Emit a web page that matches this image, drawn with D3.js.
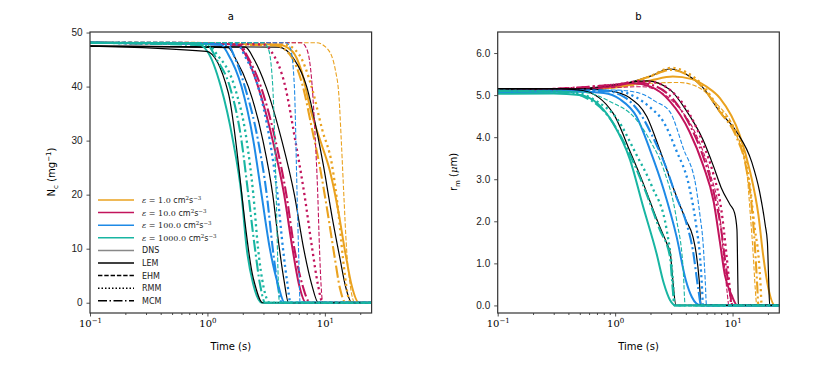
<!DOCTYPE html>
<html>
<head>
<meta charset="utf-8">
<script src="https://cdn.jsdelivr.net/npm/d3@7"></script>
<style>
  body { margin: 0; background: #fff; }
  svg { font-family: "DejaVu Sans", sans-serif; }
</style>
</head>
<body>
<svg id="chart" width="830" height="369"></svg>
<script>
/*
 * Droplet number (a) and mean radius (b) against time for four
 * dissipation rates and five models.
 */

var epsValues = ['1.0', '10.0', '100.0', '1000.0'];
var epsColors = ['#eaa21f', '#c2145c', '#1e8ae6', '#18b5a2'];
var modelNames = ['DNS', 'LEM', 'EHM', 'RMM', 'MCM'];
var xTickValues = [0.1, 1, 10];
var xTickExps = ['\u22121', '0', '1'];
var ncTicks = [0, 10, 20, 30, 40, 50];
var rmTicks = [0, 1, 2, 3, 4, 5, 6];

// panel a: N_c (mg^-1), points are [time (s), value]
var ncDns1 = [[0.1,48.1],[4.0,47.8],[5.3,46.5],[6.3,43],[7.7,35],[9.3,29.5],[11,24.5],[13,17],[15,9],[17,3],[19.5,0],[25,0]];
var ncLem1 = [[0.1,47.5],[4.0,47.3],[5.5,45],[7,40],[8.5,32],[9.7,25.5],[11.5,16],[13.5,8],[15,3],[17,0],[25,0]];
var ncEhm1 = [[0.1,48.2],[8.5,48.1],[10.5,47],[12.3,43],[13.2,38],[13.8,30],[14.5,20],[15.3,10],[16.5,3],[18,0],[25,0]];
var ncRmm1 = [[0.1,48.1],[4.5,47.8],[6,46],[7.7,40],[9.5,32],[11.5,25.5],[13,17],[14.3,8],[15.5,2],[16.5,0],[25,0]];
var ncMcm1 = [[0.1,48.1],[3.8,47.6],[5,46],[6.5,40],[7.8,32],[9,25.5],[10.5,17],[12,9],[13.5,2.5],[15,0],[25,0]];

var ncDns10 = [[0.1,48.1],[1.8,47.8],[2.1,46],[2.7,40],[3.6,30],[4.5,20],[5.3,10],[6,3.5],[6.9,0],[25,0]];
var ncLem10 = [[0.1,47.5],[2.1,47.3],[2.5,45],[3.15,40],[4.3,30],[5.5,20],[6.6,10],[7.7,3.5],[8.8,0],[25,0]];
var ncEhm10 = [[0.1,48.2],[6.3,48.1],[7,47],[7.8,40],[8.3,30],[8.7,20],[9,10],[9.3,3],[9.6,0],[25,0]];
var ncRmm10 = [[0.1,48.1],[3,47.8],[3.5,46.5],[4.6,40],[5.6,30],[6.7,20],[7.8,10],[8.7,3.5],[9.6,0],[25,0]];
var ncMcm10 = [[0.1,48.1],[1.9,47.7],[2.2,45.5],[2.85,40],[3.8,30],[4.7,20],[5.5,10],[6.4,3.5],[7.5,0],[25,0]];

var ncDns100 = [[0.1,48.1],[1.3,47.8],[1.5,46],[1.95,40],[2.46,30],[2.89,20],[3.4,10],[4,3.3],[4.55,0],[25,0]];
var ncLem100 = [[0.1,47.5],[1.5,47.2],[1.75,45],[2.23,40],[2.97,30],[3.6,20],[4.1,10],[4.5,4],[4.9,0],[25,0]];
var ncEhm100 = [[0.1,48.2],[4.7,48.1],[5.1,47],[5.5,40],[5.8,20],[6,8],[6.15,0],[25,0]];
var ncRmm100 = [[0.1,48.1],[1.8,47.8],[2.1,45.5],[2.7,40],[3.4,30],[3.95,20],[4.4,10],[4.8,3.5],[5.1,0],[25,0]];
var ncMcm100 = [[0.1,48.1],[1.5,47.7],[1.7,45.5],[2.08,40],[2.7,30],[3.2,20],[3.6,10],[3.95,3.5],[4.3,0],[25,0]];

var ncDns1000 = [[0.1,48.1],[0.8,48],[1,46.5],[1.3,40],[1.65,30],[1.95,20],[2.16,10],[2.45,3.5],[2.9,0],[25,0]];
var ncLem1000 = [[0.1,47.5],[0.98,46.5],[1.5,39],[2.46,4.5],[2.95,0],[25,0]];
var ncEhm1000 = [[0.1,48.2],[3,48.1],[3.3,47],[3.6,40],[3.85,20],[4,5],[4.1,0],[25,0]];
var ncRmm1000 = [[0.1,48.1],[1,47.8],[1.2,46],[1.7,40],[2.16,30],[2.46,20],[2.7,10],[3,3],[3.4,0],[25,0]];
var ncMcm1000 = [[0.1,48.1],[1,47.6],[1.2,45],[1.55,40],[1.95,30],[2.23,20],[2.54,10],[2.8,3.5],[3.1,0],[25,0]];

// panel b: r_m (um)
var rmDns1 = [[0.1,5.07],[1,5.18],[2,5.35],[3.1,5.44],[4.5,5.38],[6,5.2],[7.8,4.93],[11.5,4.05],[14.1,3.18],[16.6,2.15],[18.2,1.2],[20.2,0.4],[23,0],[25,0]];
var rmLem1 = [[0.1,5.15],[0.5,5.15],[1,5.22],[2,5.45],[2.9,5.62],[4,5.5],[5.5,5.2],[7.8,4.6],[10.8,4.13],[14.6,3.4],[17,2.7],[19,1.9],[19.8,1.5],[20.3,0.6],[20.7,0],[25,0]];
var rmEhm1 = [[0.1,5.1],[1,5.18],[2,5.28],[3.5,5.3],[5,5.2],[7,4.85],[10.8,4.05],[13.2,3.18],[14.1,2.23],[15,1.2],[15.6,0.4],[16.1,0],[25,0]];
var rmRmm1 = [[0.1,5.1],[1,5.2],[2,5.45],[3,5.65],[4,5.55],[5.5,5.25],[7.8,4.65],[10.8,4.1],[12.5,3.6],[14.1,2.8],[15.5,1.8],[16.6,1.2],[17.3,0.5],[17.7,0],[25,0]];
var rmMcm1 = [[0.1,5.1],[1,5.2],[2,5.45],[3,5.6],[4,5.5],[5.5,5.2],[7.8,4.6],[10.8,4],[13,3.3],[14.5,2.4],[15.5,1.4],[16.2,0.5],[16.6,0],[25,0]];

var rmDns10 = [[0.1,5.07],[0.5,5.12],[1,5.22],[1.4,5.28],[2,5.2],[2.93,4.85],[4.3,4.13],[5.6,3.34],[6.9,2.47],[7.8,1.51],[8.6,0.72],[9.8,0.25],[11,0],[25,0]];
var rmLem10 = [[0.1,5.15],[0.5,5.15],[1,5.25],[1.86,5.34],[2.93,5.13],[4,4.65],[5.6,3.94],[6.9,3.3],[8,2.8],[9.5,2.4],[10.4,2.2],[10.9,1.8],[11.1,0.5],[11.2,0],[25,0]];
var rmEhm10 = [[0.1,5.1],[1,5.18],[1.7,5.2],[2.5,5.05],[3.5,4.7],[5,4],[6.5,3.1],[7.8,2.1],[8.5,1],[9,0.3],[9.3,0],[25,0]];
var rmRmm10 = [[0.1,5.1],[1,5.25],[1.6,5.33],[2.2,5.3],[3,5.1],[4.3,4.55],[5.6,3.85],[6.9,3.1],[8,2.3],[8.8,1.3],[9.4,0.5],[9.8,0],[25,0]];
var rmMcm10 = [[0.1,5.1],[1,5.25],[1.5,5.3],[2,5.25],[3,4.95],[4.3,4.3],[5.6,3.55],[6.9,2.7],[8,1.8],[8.8,0.9],[9.5,0.3],[10,0],[25,0]];

var rmDns100 = [[0.1,5.07],[0.5,5.08],[0.8,5.05],[1.1,4.9],[1.52,4.49],[1.98,3.7],[2.6,2.74],[3.34,1.63],[4,0.6],[4.5,0.2],[4.9,0.05],[5.4,0],[25,0]];
var rmLem100 = [[0.1,5.15],[0.5,5.15],[0.9,5.1],[1.34,4.93],[1.86,4.49],[2.4,3.7],[3.1,2.82],[4,2.03],[4.6,1.63],[4.9,1.24],[5.2,0.6],[5.4,0],[25,0]];
var rmEhm100 = [[0.1,5.1],[1,5.12],[1.6,5.05],[2.2,4.85],[2.93,4.6],[3.8,3.74],[4.9,2.79],[5.3,2.1],[5.6,1.51],[5.85,0.6],[6,0],[25,0]];
var rmRmm100 = [[0.1,5.1],[1,5.1],[1.5,4.95],[2,4.7],[2.6,4.35],[3.3,3.7],[4.3,2.79],[4.9,1.9],[5.3,1.1],[5.5,0.4],[5.6,0],[25,0]];
var rmMcm100 = [[0.1,5.1],[0.8,5.1],[1.2,4.95],[1.6,4.6],[2.1,4],[2.7,3.3],[3.3,2.6],[4,2],[4.6,1.3],[5.1,0.4],[5.4,0],[25,0]];

var rmDns1000 = [[0.1,5.03],[0.3,5.04],[0.5,5],[0.7,4.81],[0.96,4.33],[1.34,3.46],[1.73,2.35],[2.25,1.24],[2.6,0.52],[2.93,0.13],[3.3,0],[25,0]];
var rmLem1000 = [[0.1,5.15],[0.35,5.15],[0.53,5.11],[0.96,4.57],[1.34,3.66],[1.67,3.02],[2.4,1.87],[2.75,1.48],[2.95,1.24],[3.08,0.68],[3.3,0],[25,0]];
var rmEhm1000 = [[0.1,5.1],[0.5,5.08],[0.9,4.85],[1.52,4.41],[2,3.9],[2.6,3.22],[3.34,2.03],[3.8,0.84],[3.95,0],[25,0]];
var rmRmm1000 = [[0.1,5.1],[0.4,5.08],[0.7,4.85],[1.03,4.45],[1.52,3.58],[2.05,2.84],[2.75,1.79],[3.1,0.6],[3.2,0],[25,0]];
var rmMcm1000 = [[0.1,5.1],[0.35,5.08],[0.6,4.9],[0.9,4.45],[1.34,3.58],[1.73,2.86],[2.4,1.8],[2.93,1.16],[3.1,0.36],[3.2,0],[25,0]];

var ncSeries = [
  [ncDns1, ncLem1, ncEhm1, ncRmm1, ncMcm1],
  [ncDns10, ncLem10, ncEhm10, ncRmm10, ncMcm10],
  [ncDns100, ncLem100, ncEhm100, ncRmm100, ncMcm100],
  [ncDns1000, ncLem1000, ncEhm1000, ncRmm1000, ncMcm1000]
];
var rmSeries = [
  [rmDns1, rmLem1, rmEhm1, rmRmm1, rmMcm1],
  [rmDns10, rmLem10, rmEhm10, rmRmm10, rmMcm10],
  [rmDns100, rmLem100, rmEhm100, rmRmm100, rmMcm100],
  [rmDns1000, rmLem1000, rmEhm1000, rmRmm1000, rmMcm1000]
];

// line look for each model
var modelStyle = {
  DNS: {width: 2, dash: null},
  LEM: {width: 1.2, dash: null, black: true},
  EHM: {width: 1.1, dash: '4.4,1.9'},
  RMM: {width: 2.3, dash: '2.2,3.4'},
  MCM: {width: 2.1, dash: '12,3,2,3'}
};

var svg = d3.select('#chart');
var minorTicks = [0.2,0.3,0.4,0.5,0.6,0.7,0.8,0.9,2,3,4,5,6,7,8,9,20];

function drawPanel(opts) {
  var x = d3.scaleLog().domain([0.1, 25]).range([opts.left, opts.left + 281.6]);
  var y = d3.scaleLinear().domain(opts.yDomain).range([313, 32]);
  var g = svg.append('g');

  var line = d3.line()
    .x(function(d) { return x(d[0]); })
    .y(function(d) { return y(d[1]); })
    .curve(d3.curveMonotoneX);

  var clipId = 'clip' + opts.name;
  svg.append('clipPath').attr('id', clipId)
    .append('rect')
      .attr('x', opts.left).attr('y', 32)
      .attr('width', 281.6).attr('height', 281);

  var lines = g.append('g').attr('clip-path', 'url(#' + clipId + ')');
  opts.series.forEach(function(group, i) {
    group.forEach(function(data, j) {
      var st = modelStyle[modelNames[j]];
      lines.append('path')
        .datum(data)
        .attr('fill', 'none')
        .attr('stroke', st.black ? '#000' : epsColors[i])
        .attr('stroke-width', st.width)
        .attr('stroke-dasharray', st.dash)
        .attr('d', line);
    });
  });

  // X axis, major ticks with 10^n labels
  var xAxis = g.append('g')
    .attr('transform', 'translate(0,313)')
    .call(d3.axisBottom(x).tickValues(xTickValues).tickSize(3.5).tickFormat(''));
  xAxis.selectAll('.tick text').remove();
  xAxis.selectAll('.tick').each(function(d, i) {
    var t = d3.select(this).append('text')
      .attr('y', 14)
      .attr('fill', '#000')
      .attr('text-anchor', 'middle')
      .style('font-family', '"DejaVu Serif", serif')
      .style('font-size', '10px');
    t.append('tspan').text('10');
    t.append('tspan').attr('dy', -4).style('font-size', '7px').text(xTickExps[i]);
  });
  g.append('g')
    .attr('transform', 'translate(0,313)')
    .call(d3.axisBottom(x).tickValues(minorTicks).tickSize(2).tickFormat(''))
    .select('.domain').remove();

  // Y axis
  g.append('g')
    .attr('transform', 'translate(' + opts.left + ',0)')
    .call(d3.axisLeft(y).tickValues(opts.yTicks).tickSize(3.5).tickPadding(4).tickFormat(opts.yFormat))
    .selectAll('text')
      .style('font-size', '10px')
      .attr('fill', '#222');

  g.selectAll('.domain').remove();
  g.selectAll('.tick line').attr('stroke', '#222').attr('stroke-width', 0.8);

  // frame
  g.append('rect')
    .attr('x', opts.left).attr('y', 32)
    .attr('width', 281.6).attr('height', 281)
    .attr('fill', 'none')
    .attr('stroke', '#333')
    .attr('stroke-width', 1.2);

  g.append('text')
    .attr('x', opts.left + 140.8).attr('y', 20)
    .attr('text-anchor', 'middle')
    .style('font-size', '10px')
    .text(opts.title);

  g.append('text')
    .attr('x', opts.left + 140.8).attr('y', 350)
    .attr('text-anchor', 'middle')
    .style('font-size', '10px')
    .text('Time (s)');

  var yl = g.append('text')
    .attr('transform', 'translate(' + opts.yLabelX + ',172) rotate(-90)')
    .attr('text-anchor', 'middle')
    .style('font-size', '10px');
  opts.yLabel(yl);

  return {x: x, y: y, g: g};
}

drawPanel({
  name: 'a', title: 'a', left: 90, series: ncSeries,
  yDomain: [-1.9, 50.1], yTicks: ncTicks, yFormat: d3.format('d'), yLabelX: 55,
  yLabel: function(t) {
    t.append('tspan').text('N');
    t.append('tspan').attr('dy', 3).style('font-size', '7px').text('c');
    t.append('tspan').attr('dy', -3).text(' (mg');
    t.append('tspan').attr('dy', -4).style('font-size', '7px').text('\u22121');
    t.append('tspan').attr('dy', 4).text(')');
  }
});

drawPanel({
  name: 'b', title: 'b', left: 497.7, series: rmSeries,
  yDomain: [-0.18, 6.5], yTicks: rmTicks, yFormat: d3.format('.1f'), yLabelX: 457,
  yLabel: function(t) {
    t.append('tspan').text('r');
    t.append('tspan').attr('dy', 3).style('font-size', '7px').text('m');
    t.append('tspan').attr('dy', -3).text(' (');
    t.append('tspan').style('font-family', '"DejaVu Serif", serif').style('font-style', 'italic').text('\u03bc');
    t.append('tspan').text('m)');
  }
});

// Legend in panel a
var legendRows = epsValues.map(function(e, i) {
  return {kind: 'eps', label: e, color: epsColors[i], dash: null};
}).concat([
  {kind: 'model', label: 'DNS', color: '#888', dash: null},
  {kind: 'model', label: 'LEM', color: '#000', dash: null},
  {kind: 'model', label: 'EHM', color: '#000', dash: '4.4,1.9'},
  {kind: 'model', label: 'RMM', color: '#000', dash: '1.5,2'},
  {kind: 'model', label: 'MCM', color: '#000', dash: '9,2.5,1.5,2.5'}
]);

var legend = svg.append('g').attr('transform', 'translate(98,200)');
legendRows.forEach(function(r, i) {
  var row = legend.append('g').attr('transform', 'translate(0,' + (i * 12.6) + ')');
  row.append('line')
    .attr('x1', 0).attr('x2', 36)
    .attr('stroke', r.color)
    .attr('stroke-width', 1.5)
    .attr('stroke-dasharray', r.dash);
  var t = row.append('text')
    .attr('x', 44).attr('y', 3)
    .style('font-size', '8px')
    .attr('fill', '#222');
  if (r.kind === 'eps') {
    t.style('font-family', '"DejaVu Serif", serif');
    t.append('tspan').style('font-style', 'italic').text('\u03b5');
    t.append('tspan').text(' = ' + r.label + ' ');
    t.append('tspan').style('font-family', '"DejaVu Sans", sans-serif').text('cm');
    t.append('tspan').attr('dy', -3).style('font-size', '5.5px').text('2');
    t.append('tspan').attr('dy', 3).style('font-family', '"DejaVu Sans", sans-serif').text('s');
    t.append('tspan').attr('dy', -3).style('font-size', '5.5px').text('\u22123');
  } else {
    t.text(r.label);
  }
});
</script>
</body>
</html>
